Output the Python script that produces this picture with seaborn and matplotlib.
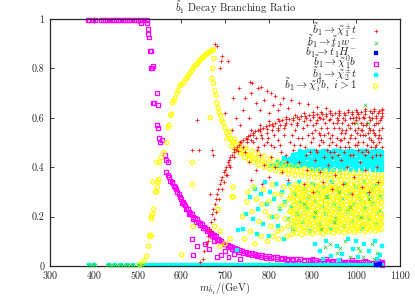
import numpy as np
import pandas as pd
import matplotlib
matplotlib.use("Agg")
import matplotlib.pyplot as plt
import seaborn as sns

# --- data (mass in GeV, branching ratio) ---
red_band = [
    (650, .03), (652, .06), (656, .09), (660, .12), (663, .15), (667, .18), (670, .21), (673, .23),
    (676, .25), (679, .27), (682, .29), (685, .31), (688, .33), (691, .35), (694, .36), (697, .38),
    (700, .39), (703, .40), (706, .42), (709, .43), (712, .44), (716, .45), (720, .46), (724, .47),
    (728, .48), (732, .49), (737, .50), (742, .51), (747, .52), (752, .525), (757, .53), (763, .54),
    (769, .545), (775, .55), (781, .555), (787, .56), (794, .565), (801, .57), (808, .575), (815, .58),
    (823, .585), (831, .59), (839, .594), (847, .597), (856, .60), (865, .603), (874, .606), (883, .608),
    (892, .61), (901, .612), (911, .614), (921, .615), (931, .617), (941, .618), (951, .619), (961, .62),
    (971, .621), (981, .622), (991, .623), (1001, .624), (1011, .625), (1021, .626), (1031, .627),
    (1041, .628), (1051, .629), (1058, .63),
    (662, .10), (668, .14), (674, .19), (680, .22), (686, .27), (692, .31), (698, .34), (704, .37),
    (712, .40), (702, .37), (710, .41), (720, .44), (730, .465), (740, .48), (750, .50), (760, .51),
    (770, .52), (782, .53), (795, .54), (808, .55), (822, .56), (836, .57), (850, .575), (865, .58),
    (880, .585), (895, .59), (910, .592), (925, .594), (940, .596), (955, .598), (970, .60), (985, .60),
    (1000, .602), (1015, .604), (1030, .605), (1045, .606), (1058, .607),
    (720, .475), (735, .50), (750, .515), (765, .53), (780, .545), (795, .555), (810, .565), (825, .57),
    (840, .58), (855, .59), (870, .595), (885, .60), (900, .602), (915, .605), (930, .607), (945, .61),
    (960, .612), (975, .613), (990, .614), (1005, .615), (1020, .617), (1035, .618), (1050, .619),
    (1058, .62),
    (760, .55), (780, .57), (800, .585), (820, .595), (840, .605), (860, .612), (880, .618), (900, .622),
    (920, .625), (940, .627), (960, .629), (980, .631), (1000, .633), (1020, .634), (1040, .636),
    (1058, .637),
]
red_scatter = [
    (677, .90), (682, .89), (693, .85), (690, .83), (707, .83), (688, .80), (718, .68), (732, .72),
    (757, .745), (762, .74), (775, .72), (782, .725), (796, .71), (805, .70), (815, .69), (833, .68),
    (850, .67), (870, .66), (890, .655), (910, .645), (930, .64), (745, .68), (760, .70), (770, .66),
    (790, .67), (810, .65), (825, .655), (845, .64), (700, .62), (725, .60), (740, .63), (755, .60),
    (780, .63), (800, .62), (820, .63), (715, .55), (735, .57),
    (765, .50), (772, .47), (780, .45), (790, .49), (798, .52), (805, .44), (812, .48), (820, .51),
    (828, .46), (835, .53), (842, .42), (848, .50), (855, .47), (745, .46), (755, .42), (770, .39),
    (790, .41), (800, .36), (815, .40), (830, .38), (845, .35), (785, .33), (760, .35),
    (860, .55), (866, .52), (872, .49), (878, .56), (884, .45), (890, .53), (896, .50), (902, .57),
    (908, .47), (914, .54), (920, .51), (926, .44), (932, .56), (938, .49), (944, .53), (950, .46),
    (956, .58), (962, .51), (968, .55), (974, .48), (980, .57), (986, .52), (992, .45), (998, .55),
    (1004, .50), (1010, .58), (1016, .53), (1022, .47), (1028, .56), (1034, .51), (1040, .57),
    (1046, .49), (1052, .55), (1057, .52),
    (870, .42), (888, .39), (905, .43), (918, .38), (935, .41), (952, .37), (965, .43), (978, .40),
    (995, .36), (1008, .42), (1020, .39), (1035, .44), (1048, .40), (1055, .45),
    (880, .33), (900, .30), (925, .34), (945, .31), (970, .33), (990, .29), (1012, .32), (1030, .30),
    (1050, .34),
    (1000, .59), (1005, .56), (1012, .55), (1018, .60), (1025, .58), (1032, .59), (1038, .55),
    (1044, .60), (1050, .58), (1056, .60), (1042, .53), (1026, .54), (1008, .53), (990, .58),
    (975, .59), (960, .56),
    (636, .59), (641, .47), (625, .47), (670, .47), (666, .29), (643, .016), (672, .45),
]
red_dense = [
    (902, .52), (908, .58), (914, .49), (920, .56), (926, .53), (932, .47), (938, .59), (944, .50),
    (950, .56), (956, .52), (962, .48), (968, .58), (974, .54), (980, .50), (986, .56), (992, .60),
    (998, .52), (1004, .47), (1010, .55), (1016, .50), (1022, .57), (1028, .52), (1034, .48),
    (1040, .54), (1046, .58), (1052, .50), (1058, .56),
    (905, .55), (911, .46), (917, .60), (923, .50), (929, .58), (935, .54), (941, .46), (947, .58),
    (953, .49), (959, .59), (965, .51), (971, .46), (977, .55), (983, .48), (989, .53), (995, .58),
    (1001, .49), (1007, .60), (1013, .46), (1019, .53), (1025, .49), (1031, .55), (1037, .60),
    (1043, .48), (1049, .52), (1055, .59), (1059, .48),
    (945, .44), (958, .45), (972, .52), (985, .45), (996, .49), (1015, .57), (1027, .46), (1045, .45),
    (1053, .53), (1038, .50), (1020, .45), (1002, .54), (964, .54), (940, .52), (918, .53),
    (820, .55), (826, .49), (834, .56), (840, .45), (852, .53), (858, .49), (864, .57), (876, .52),
    (882, .48), (888, .57), (894, .46), (898, .54), (812, .53), (806, .49), (795, .50), (784, .52),
    (776, .48),
]
green_pts = [
    (1020, .65), (999, .58), (1027, .58), (929, .077), (963, .073), (957, .053), (1004, .073),
    (1008, .06), (1047, .053), (986, .036), (940, .09), (975, .10), (1035, .09), (1015, .035),
    (1040, .03), (880, .25), (905, .22), (930, .28), (950, .18), (985, .24), (1010, .20), (1030, .27),
    (960, .30), (920, .15),
    (387, .003), (395, .003), (402, .003), (430, .003), (437, .003), (445, .003), (452, .003),
    (460, .003), (467, .003), (475, .003), (482, .003), (490, .003), (500, .003), (510, .003),
]
blue_pts = [(1045, .002), (1050, .005), (1055, .01)]
magenta_top = [
    (387, .995), (390, .995), (399, .995), (403, .995), (416, .995), (421, .995), (426, .995),
    (431, .995), (436, .995), (441, .995), (446, .995), (451, .995), (456, .995), (461, .995),
    (466, .995), (471, .995), (476, .995), (481, .995), (486, .995), (491, .995), (496, .995),
    (501, .995), (506, .995), (511, .995), (516, .995), (521, .995),
]
magenta_curve = [
    (509, .985), (521, .985), (524, .96), (525, .94), (526, .925), (528, .87), (531, .87), (531, .80),
    (533, .80), (535, .81), (536, .66), (538, .66), (545, .70), (547, .65), (544, .57), (546, .56),
    (549, .52), (552, .50), (556, .51), (562, .45), (566, .43), (569, .42), (565, .38), (570, .37),
    (573, .36), (575, .345), (578, .34), (580, .335), (583, .325), (585, .32), (588, .31), (591, .30),
    (594, .29), (597, .28), (600, .27), (603, .26), (606, .25), (609, .245), (612, .235), (615, .23),
    (618, .22), (621, .215), (624, .21), (627, .20), (631, .195), (635, .19), (639, .18), (643, .175),
    (647, .17), (651, .16), (655, .155), (659, .15), (663, .14), (667, .135), (671, .13), (675, .125),
    (679, .12), (683, .11), (687, .105), (691, .10), (696, .095), (701, .09), (706, .085), (711, .08),
    (716, .076), (722, .072), (728, .068), (734, .064), (740, .06), (747, .057), (754, .054),
    (761, .051), (768, .048), (776, .045), (784, .043), (792, .041), (800, .039), (809, .037),
    (818, .035), (827, .033), (836, .031), (845, .030), (854, .029), (863, .028), (872, .027),
    (881, .026), (890, .025), (899, .024), (908, .023), (917, .022), (926, .021), (935, .02),
    (944, .02), (953, .019), (962, .018), (971, .018), (980, .017), (989, .017), (998, .016),
    (1007, .016), (1016, .015), (1025, .015), (1034, .014), (1043, .014), (1052, .013), (1058, .013),
    (602, .255), (610, .23), (618, .21), (626, .19), (634, .178), (642, .165), (650, .152), (658, .14),
    (666, .128), (674, .118), (682, .105), (690, .095), (698, .088), (706, .078), (715, .07),
    (724, .063), (733, .058), (742, .053), (752, .048), (762, .044), (772, .04), (782, .037),
    (794, .034), (806, .032), (818, .029), (830, .027), (842, .025), (855, .023), (868, .022),
    (881, .02), (894, .019), (907, .018), (920, .017), (933, .016), (946, .015), (960, .014),
    (974, .013), (988, .012), (1002, .011), (1016, .01), (1030, .01), (1044, .009), (1056, .009),
    (900, .03), (930, .028), (960, .025), (990, .024), (1020, .022), (1050, .02), (1060, .018),
    (915, .012), (945, .01), (975, .008), (1005, .007), (1035, .006), (1058, .005),
]
magenta_scatter = [
    (625, .11), (636, .08), (627, .045), (670, .12), (675, .10), (681, .038), (690, .045), (700, .06),
    (663, .07), (708, .035), (720, .05), (735, .03), (655, .09),
]
cyan_line = [
    (390, .003), (400, .003), (435, .003), (448, .003), (462, .003), (476, .003), (490, .003),
    (504, .003), (514, .003),
    (522, .003), (530, .003), (538, .003), (546, .003), (554, .003), (562, .003), (570, .003),
    (578, .003), (586, .003), (594, .003), (602, .003), (610, .003), (618, .003), (626, .003),
    (634, .003), (642, .003), (650, .003), (658, .003), (666, .003), (674, .003), (682, .003),
    (690, .003), (698, .003), (706, .003), (714, .003), (722, .003), (730, .003), (738, .003),
    (746, .003), (754, .003), (762, .003), (770, .003), (778, .003), (786, .003), (794, .003),
    (802, .003), (810, .003), (818, .003), (826, .003), (834, .003), (842, .003), (850, .003),
    (858, .003), (866, .003), (874, .003), (882, .003), (890, .003), (898, .003), (906, .003),
    (914, .003), (922, .003), (930, .003), (938, .003), (946, .003), (954, .003), (962, .003),
    (970, .003), (978, .003), (986, .003), (994, .003), (1002, .003), (1010, .003), (1018, .003),
    (1026, .003), (1034, .003), (1042, .003), (1050, .003), (1058, .003),
]
cyan_block = [
    (872, .466), (881, .463), (889, .467), (898, .464), (906, .466), (915, .462), (923, .467),
    (932, .465), (940, .463), (949, .467), (957, .464), (966, .466), (974, .462), (983, .467),
    (991, .465), (1000, .463), (1008, .467), (1017, .464), (1025, .466), (1034, .462), (1042, .467),
    (1051, .465), (1058, .463),
    (855, .449), (864, .452), (872, .448), (881, .451), (889, .447), (898, .452), (906, .449),
    (915, .451), (923, .448), (932, .452), (940, .449), (949, .451), (957, .447), (966, .452),
    (974, .449), (983, .451), (991, .448), (1000, .452), (1008, .449), (1017, .451), (1025, .447),
    (1034, .452), (1042, .449), (1051, .451), (1058, .448),
    (835, .436), (844, .433), (852, .437), (861, .434), (870, .436), (878, .432), (887, .437),
    (896, .435), (904, .433), (913, .437), (922, .434), (930, .436), (939, .432), (948, .437),
    (956, .435), (965, .433), (974, .437), (982, .434), (991, .436), (1000, .432), (1008, .437),
    (1017, .435), (1026, .433), (1034, .437), (1043, .434), (1051, .436), (1058, .433),
    (818, .421), (827, .418), (835, .422), (844, .419), (853, .421), (861, .417), (870, .422),
    (879, .42), (887, .418), (896, .422), (905, .419), (913, .421), (922, .417), (931, .422),
    (939, .42), (948, .418), (957, .422), (965, .419), (974, .421), (983, .417), (991, .422),
    (1000, .42), (1009, .418), (1017, .422), (1026, .419), (1035, .421), (1043, .417), (1052, .422),
    (1058, .42),
    (803, .404), (812, .407), (820, .403), (829, .406), (838, .404), (846, .407), (855, .403),
    (864, .406), (872, .404), (881, .407), (890, .403), (898, .406), (907, .404), (916, .407),
    (924, .403), (933, .406), (942, .404), (950, .407), (959, .403), (968, .406), (976, .404),
    (985, .407), (994, .403), (1002, .406), (1011, .404), (1020, .407), (1028, .403), (1037, .406),
    (1046, .404), (1054, .407), (1058, .403),
    (900, .39), (912, .388), (925, .391), (938, .389), (950, .39), (963, .388), (975, .391),
    (988, .389), (1000, .39), (1013, .388), (1025, .391), (1038, .389), (1050, .39), (1058, .388),
]
cyan_scatter = [
    (730, .146), (728, .065), (741, .15), (748, .21), (757, .28), (763, .19), (768, .31), (772, .13),
    (776, .23), (782, .29), (787, .17), (791, .34), (796, .25), (800, .12), (803, .30), (808, .20),
    (812, .27), (817, .33), (821, .16), (826, .23), (830, .30), (834, .11), (838, .26), (843, .19),
    (847, .33), (851, .24), (856, .15), (860, .29), (865, .21), (869, .34), (873, .26), (878, .18),
    (882, .31), (887, .23), (891, .28), (895, .14), (900, .33), (904, .20), (909, .26), (913, .30),
    (918, .17), (922, .24), (927, .32), (931, .21), (936, .28), (940, .15), (945, .34), (949, .25),
    (954, .19), (958, .31), (963, .23), (967, .27), (972, .16), (976, .33), (981, .22), (985, .29),
    (990, .18), (994, .25), (999, .32), (1003, .20), (1008, .27), (1012, .15), (1017, .34),
    (1021, .23), (1026, .29), (1030, .19), (1035, .31), (1039, .25), (1044, .17), (1048, .33),
    (1053, .22), (1057, .28),
    (905, .09), (918, .06), (930, .10), (942, .04), (955, .08), (968, .05), (980, .11), (993, .07),
    (1005, .035), (1018, .09), (1030, .06), (1042, .10), (1054, .045), (1058, .08), (925, .03),
    (1000, .10), (1048, .03), (960, .025),
]
yellow_rise = [
    (505, .005), (510, .01), (515, .02), (521, .04), (525, .08), (528, .12), (530, .125), (532, .19),
    (535, .21), (537, .23), (544, .30), (545, .32), (547, .34), (548, .35), (551, .42), (554, .44),
    (560, .46), (567, .50), (570, .56), (572, .57), (576, .61), (578, .615), (580, .66), (583, .67),
    (586, .68), (590, .70), (593, .71), (597, .73), (600, .735), (605, .74), (610, .755), (613, .76),
    (616, .77), (620, .78), (624, .79), (627, .80), (631, .81), (634, .815), (638, .82), (641, .83),
    (644, .835), (647, .84), (650, .845), (653, .85), (656, .855), (659, .86), (662, .863),
    (665, .866), (668, .87), (671, .872), (673, .875),
]
yellow_fall = [
    (675, .84), (672, .80), (670, .76), (674, .74), (677, .71), (679, .69), (681, .66), (684, .64),
    (687, .62), (690, .61), (693, .59), (696, .58), (700, .56), (704, .54), (708, .53), (712, .515),
    (716, .505), (720, .50), (725, .49), (730, .48), (735, .47), (740, .465), (746, .455), (752, .45),
    (758, .445), (764, .44), (770, .435), (777, .43), (784, .425), (791, .42), (798, .415),
    (806, .41), (814, .405), (822, .40), (830, .395), (838, .392), (846, .39), (855, .387),
    (864, .385), (873, .382), (882, .38), (891, .378), (900, .376), (910, .374), (920, .372),
    (930, .37), (940, .369), (950, .367), (960, .366), (970, .364), (980, .363), (990, .362),
    (1000, .36), (1010, .359), (1020, .358), (1030, .357), (1040, .356), (1050, .355), (1058, .354),
    (705, .515), (715, .485), (725, .47), (735, .455), (745, .44), (755, .43), (765, .42), (777, .41),
    (790, .40), (803, .393), (816, .386), (830, .38), (845, .372), (860, .368), (875, .364),
    (890, .36), (905, .357), (920, .354), (935, .352), (950, .35), (965, .348), (980, .346),
    (995, .345), (1010, .343), (1025, .342), (1040, .341), (1055, .34),
    (710, .545), (722, .515), (734, .495), (748, .478), (762, .465), (776, .455), (790, .445),
    (805, .435), (820, .425), (835, .415), (850, .405), (866, .40), (882, .395), (898, .39),
    (914, .388), (930, .385), (946, .383), (962, .381), (978, .379), (994, .377), (1010, .375),
    (1026, .373), (1042, .372), (1058, .37),
]
yellow_cloud = [
    (852, .128), (864, .133), (876, .127), (888, .134), (900, .13), (912, .136), (924, .131),
    (936, .138), (948, .133), (960, .139), (972, .135), (984, .141), (996, .137), (1008, .143),
    (1020, .139), (1032, .145), (1044, .141), (1056, .147),
    (858, .158), (870, .163), (882, .155), (894, .166), (906, .159), (918, .162), (930, .157),
    (942, .165), (954, .16), (966, .168), (978, .161), (990, .164), (1002, .158), (1014, .167),
    (1026, .162), (1038, .166), (1050, .16), (1058, .168),
    (850, .186), (862, .18), (874, .19), (886, .183), (898, .188), (910, .181), (922, .192),
    (934, .185), (946, .189), (958, .182), (970, .191), (982, .186), (994, .18), (1006, .19),
    (1018, .184), (1030, .188), (1042, .182), (1054, .19),
    (856, .212), (868, .206), (880, .215), (892, .208), (904, .213), (916, .205), (928, .216),
    (940, .209), (952, .214), (964, .207), (976, .212), (988, .217), (1000, .208), (1012, .215),
    (1024, .21), (1036, .206), (1048, .214), (1058, .209),
    (852, .238), (864, .232), (876, .24), (888, .234), (900, .237), (912, .231), (924, .239),
    (936, .235), (948, .23), (960, .238), (972, .233), (984, .236), (996, .231), (1008, .24),
    (1020, .234), (1032, .237), (1044, .232), (1056, .239),
    (858, .262), (870, .256), (882, .264), (894, .258), (906, .261), (918, .255), (930, .263),
    (942, .259), (954, .265), (966, .257), (978, .262), (990, .256), (1002, .264), (1014, .259),
    (1026, .261), (1038, .255), (1050, .263), (1058, .258),
    (850, .283), (862, .289), (874, .281), (886, .287), (898, .284), (910, .29), (922, .282),
    (934, .288), (946, .285), (958, .281), (970, .289), (982, .284), (994, .287), (1006, .282),
    (1018, .29), (1030, .285), (1042, .288), (1054, .283),
    (856, .309), (868, .313), (880, .306), (892, .311), (904, .308), (916, .314), (928, .307),
    (940, .312), (952, .309), (964, .305), (976, .313), (988, .308), (1000, .311), (1012, .306),
    (1024, .314), (1036, .309), (1048, .312), (1058, .307),
    (862, .331), (876, .328), (890, .333), (904, .329), (918, .332), (932, .327), (946, .331),
    (960, .328), (974, .333), (988, .329), (1002, .332), (1016, .327), (1030, .331), (1044, .328),
    (1058, .333),
]
yellow_cloud_b = [
    (858, .146), (870, .149), (882, .144), (894, .15), (906, .146), (918, .151), (930, .145),
    (942, .15), (954, .147), (966, .152), (978, .148), (990, .153), (1002, .149), (1014, .154),
    (1026, .15), (1038, .155), (1050, .151),
    (852, .171), (864, .175), (876, .169), (888, .176), (900, .172), (912, .174), (924, .17),
    (936, .177), (948, .173), (960, .175), (972, .171), (984, .176), (996, .172), (1008, .174),
    (1020, .17), (1032, .177), (1044, .173), (1056, .175),
    (856, .198), (868, .194), (880, .2), (892, .196), (904, .199), (916, .193), (928, .201),
    (940, .197), (952, .195), (964, .2), (976, .196), (988, .199), (1000, .194), (1012, .2),
    (1024, .197), (1036, .195), (1048, .2), (1058, .196),
    (850, .223), (862, .219), (874, .225), (886, .221), (898, .224), (910, .22), (922, .226),
    (934, .222), (946, .219), (958, .225), (970, .221), (982, .224), (994, .22), (1006, .226),
    (1018, .222), (1030, .219), (1042, .225), (1054, .221),
    (858, .248), (870, .244), (882, .25), (894, .246), (906, .249), (918, .243), (930, .251),
    (942, .247), (954, .245), (966, .25), (978, .246), (990, .249), (1002, .244), (1014, .25),
    (1026, .247), (1038, .245), (1050, .25),
    (852, .273), (864, .269), (876, .275), (888, .271), (900, .274), (912, .27), (924, .276),
    (936, .272), (948, .269), (960, .275), (972, .271), (984, .274), (996, .27), (1008, .276),
    (1020, .272), (1032, .269), (1044, .275), (1056, .271),
    (856, .298), (868, .294), (880, .3), (892, .296), (904, .299), (916, .293), (928, .301),
    (940, .297), (952, .295), (964, .3), (976, .296), (988, .299), (1000, .294), (1012, .3),
    (1024, .297), (1036, .295), (1048, .3), (1058, .296),
    (850, .321), (868, .318), (884, .323), (898, .319), (912, .322), (926, .317), (940, .321),
    (954, .318), (968, .323), (982, .319), (996, .322), (1010, .317), (1024, .321), (1038, .318),
    (1052, .322),
]
yellow_scatter = [
    (745, .11), (752, .30), (758, .14), (762, .22), (768, .09), (772, .27), (778, .18), (783, .12),
    (788, .31), (792, .22), (797, .10), (800, .26), (805, .16), (810, .12), (814, .29), (818, .20),
    (822, .11), (826, .24), (830, .15), (834, .32), (838, .19), (842, .12), (846, .27), (848, .22),
    (740, .20), (750, .26), (765, .32), (785, .25), (808, .33), (828, .29), (844, .16), (836, .25),
    (820, .14), (802, .20),
    (625, .42), (625, .33), (627, .16), (601, .045), (689, .14), (719, .28), (666, .60), (544, .42),
    (535, .34), (541, .30), (532, .20), (531, .12), (718, .32), (716, .28), (684, .23), (677, .16),
    (689, .08), (700, .09), (712, .11),
]

labels = [
    r'$\tilde{b}_1 \rightarrow \tilde{\chi}_1^{\pm} t$',
    r'$\tilde{b}_1 \rightarrow \tilde{t}_1 w^{-}$',
    r'$\tilde{b}_1 \rightarrow \tilde{t}_1 H^{-}$',
    r'$\tilde{b}_1 \rightarrow \tilde{\chi}_1^0 b$',
    r'$\tilde{b}_1 \rightarrow \tilde{\chi}_2^{\pm} t$',
    r'$\tilde{b}_1 \rightarrow \tilde{\chi}_i^0 b,\ i>1$',
]
x_ticks = [300, 400, 500, 600, 700, 800, 900, 1000, 1100]
y_ticks = [0, 0.2, 0.4, 0.6, 0.8, 1]
y_tick_labels = ['0', '0.2', '0.4', '0.6', '0.8', '1']


def to_df(*parts):
    pts = [p for part in parts for p in part]
    return pd.DataFrame(pts, columns=['m', 'br'])


sns.set_style('ticks')
plt.rcParams['font.family'] = ['cmr10', 'DejaVu Serif']
plt.rcParams['mathtext.fontset'] = 'cm'
plt.rcParams['axes.formatter.use_mathtext'] = True

fig = plt.figure(figsize=(4.15, 2.99), dpi=100)
ax = fig.add_axes([0.1205, 0.1104, 0.8434, 0.8261])

# series: (data, marker, colour, filled, size, zorder)
series = [
    (to_df(red_band, red_scatter, red_dense), '+', '#ff0000', True, 8, 4),
    (to_df(green_pts), 'x', '#22cc22', True, 7, 5),
    (to_df(blue_pts), 's', '#0000ff', True, 5, 5),
    (to_df(magenta_top, magenta_curve, magenta_scatter), 's', '#ff00ff', False, 8, 1),
    (to_df(cyan_line, cyan_block, cyan_scatter), 's', '#00ffff', True, 7, 2),
    (to_df(yellow_rise, yellow_fall, yellow_cloud, yellow_cloud_b, yellow_scatter), 'o', '#ffff00', False, 9, 3),
]

handles = []
for (df, mk, col, filled, size, z), lab in zip(series, labels):
    if mk in ('+', 'x'):
        sns.scatterplot(data=df, x='m', y='br', ax=ax, marker=mk, s=size, color=col,
                        linewidth=0.5, zorder=z, clip_on=False)
    elif filled:
        sns.scatterplot(data=df, x='m', y='br', ax=ax, marker=mk, s=size, color=col,
                        edgecolor=col, linewidth=0.2, zorder=z, clip_on=False)
    else:
        sns.scatterplot(data=df, x='m', y='br', ax=ax, marker=mk, s=size, color=col,
                        facecolors='none', edgecolor=col, linewidth=0.9, zorder=z, clip_on=False)
    handles.append(ax.collections[-1])

ax.set_xlim(300, 1100)
ax.set_ylim(0, 1)
ax.set_xticks(x_ticks)
ax.set_xticklabels([str(t) for t in x_ticks])
ax.set_yticks(y_ticks)
ax.set_yticklabels(y_tick_labels)
ax.tick_params(direction='in', top=True, right=True, length=3, width=0.6, labelsize=7.2, pad=4)
for sp in ax.spines.values():
    sp.set_linewidth(0.9)
ax.set_xlabel(r'$m_{\tilde{b}_1}/(\mathrm{GeV})$', fontsize=7.5, labelpad=0)
ax.set_ylabel('')
fig.text(235 / 415, 1 - 8 / 299, r'$\tilde{b}_1$ Decay Branching Ratio', ha='center', va='center', fontsize=7.5)

leg = ax.legend(handles, labels, loc='upper right', bbox_to_anchor=(0.946, 0.99), frameon=False,
                markerfirst=False, fontsize=8.0, borderpad=0, borderaxespad=0, handletextpad=1.2,
                handlelength=1, labelspacing=-0.58, scatterpoints=1)
leg.set_zorder(10)

fig.savefig('out.png', dpi=100)
